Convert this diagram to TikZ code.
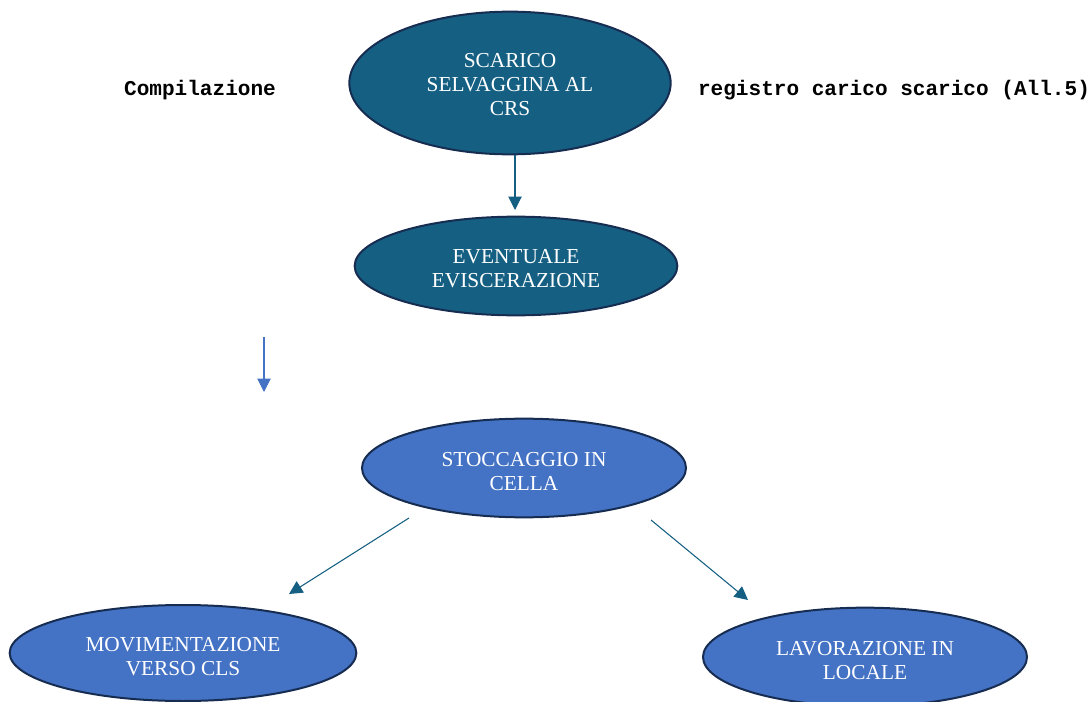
\documentclass[tikz,border=0pt]{standalone}
\usepackage{fontspec}
\setmainfont{Liberation Serif}
\setmonofont{Liberation Mono}
\usetikzlibrary{arrows.meta, positioning, shapes.geometric}
\definecolor{tealfill}{HTML}{156082}
\definecolor{bluefill}{HTML}{4472C4}
\definecolor{navyline}{HTML}{172C51}
\tikzset{
  stage/.style={ellipse, draw=navyline, line width=1.5pt, text=white, align=center,
    inner sep=0pt, text height=34pt, font=\fontsize{16}{18}\selectfont},
  flow/.style={-{Triangle[length=10pt,width=10pt]}, line width=0.8pt},
  note/.style={font=\ttfamily\bfseries\fontsize{15.8}{18}\selectfont}
}

\begin{document}
\begin{tikzpicture}[x=0.75pt, y=-0.75pt]
  \useasboundingbox (0,0) rectangle (1092,702);

  % Top ellipses
  \node[stage, fill=tealfill, minimum width=241pt, minimum height=107pt, text height=49.5pt] (scarico) at (510,83) {SCARICO\\SELVAGGINA AL\\CRS};
  \node[stage, fill=tealfill, minimum width=242pt, minimum height=74pt, text height=32pt] (eviscerazione) at (516,266) {EVENTUALE\\EVISCERAZIONE};

  % Side texts
  \node[note] (compilazione) at (200,90) {Compilazione};
  \node[note] (registro) at (894,90) {registro carico scarico (All.5)};

  % Storage and the two outlets
  \node[stage, fill=bluefill, minimum width=243pt, minimum height=74pt] (stoccaggio) at (524,468) {STOCCAGGIO IN\\CELLA};
  \node[stage, fill=bluefill, minimum width=260pt, minimum height=72pt] (movimentazione) at (183,653) {MOVIMENTAZIONE\\VERSO CLS};
  \node[stage, fill=bluefill, minimum width=243pt, minimum height=74pt] (lavorazione) at (865,657) {LAVORAZIONE IN\\LOCALE};

  % Free arrow ends
  \coordinate (scaricoout) at (515,155);
  \coordinate (eviscin) at (515,210);
  \coordinate (straytop) at (264,337);
  \coordinate (straybot) at (264,392);
  \coordinate (leftout) at (409,518);
  \coordinate (leftin) at (289,594);
  \coordinate (rightout) at (651,520);
  \coordinate (rightin) at (748,600);

  % Arrows
  \draw[flow, tealfill] (scaricoout) -- (eviscin);
  \draw[flow, bluefill] (straytop) -- (straybot);
  \draw[flow, tealfill] (leftout) -- (leftin);
  \draw[flow, tealfill] (rightout) -- (rightin);
\end{tikzpicture}
\end{document}
